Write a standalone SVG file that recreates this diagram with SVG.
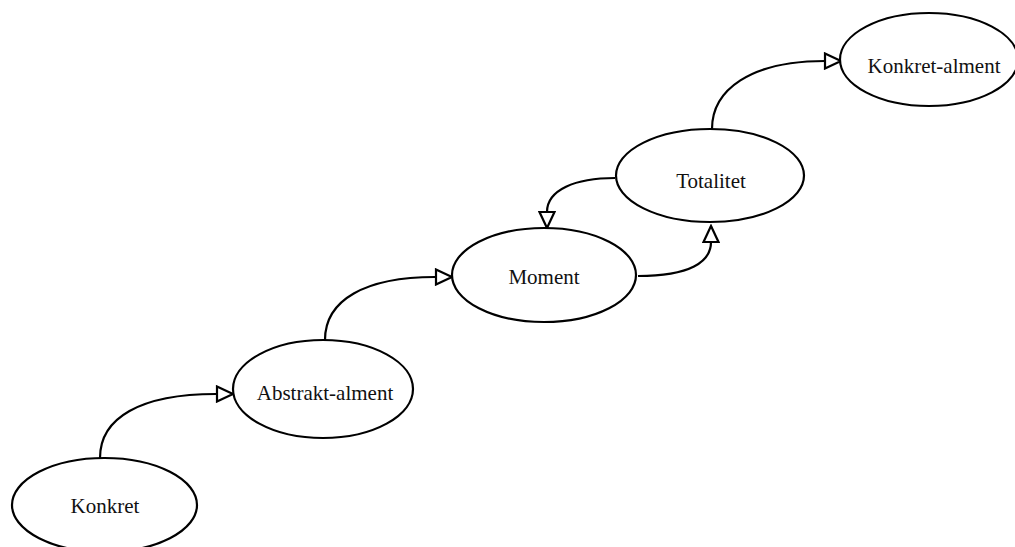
<svg xmlns="http://www.w3.org/2000/svg" width="1015" height="547" viewBox="0 0 1015 547">
  <style>
    .node ellipse { fill: #ffffff; stroke: #000000; stroke-width: 2.2; }
    .node text { font-family: "Liberation Serif", "Times New Roman", serif; font-size: 21px; fill: #111111; text-anchor: middle; }
    .edge { fill: none; stroke: #000000; stroke-width: 2.2; marker-end: url(#open-arrow); }
  </style>
  <defs>
    <marker id="open-arrow" markerUnits="userSpaceOnUse" viewBox="0 0 20 18" markerWidth="20" markerHeight="18" refX="18" refY="9" orient="auto">
      <path d="M2,1.5 L18,9 L2,16.5 Z" fill="#ffffff" stroke="#000000" stroke-width="2.2" stroke-linejoin="miter"/>
    </marker>
  </defs>
  <rect width="1015" height="547" fill="#ffffff"/>

  <!-- connectors -->
  <g id="connectors">
    <path class="edge" d="M100,458 C100,418 140,394 216,394 L233,394"/>
    <path class="edge" d="M325,340 C325,300 365,277 435,277 L452,277"/>
    <path class="edge" d="M615,178 C575,178 547,190 547,212 L547,228"/>
    <path class="edge" d="M638,276 C690,276 711,262 711,242 L711,226"/>
    <path class="edge" d="M712,129 C712,90 750,61 825,61 L841,61"/>
  </g>

  <!-- nodes -->
  <g id="konkret" class="node">
    <ellipse cx="104.5" cy="505" rx="92.5" ry="47"/>
    <text x="105" y="513">Konkret</text>
  </g>
  <g id="abstrakt-alment" class="node">
    <ellipse cx="323" cy="389" rx="90" ry="49"/>
    <text x="325" y="400">Abstrakt-alment</text>
  </g>
  <g id="moment" class="node">
    <ellipse cx="544" cy="275" rx="92" ry="47"/>
    <text x="544" y="284">Moment</text>
  </g>
  <g id="totalitet" class="node">
    <ellipse cx="710" cy="175.5" rx="94" ry="46.5"/>
    <text x="711" y="188">Totalitet</text>
  </g>
  <g id="konkret-alment" class="node">
    <ellipse cx="929" cy="59.5" rx="89" ry="46.5"/>
    <text x="934" y="73">Konkret-alment</text>
  </g>
</svg>
